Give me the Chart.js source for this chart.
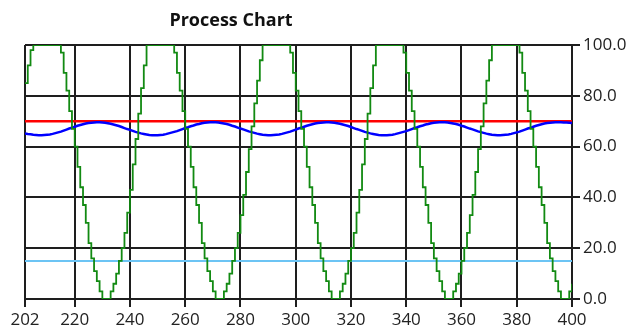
<!DOCTYPE html>
<html>
<head>
<meta charset="utf-8">
<title>Process Chart</title>
<script src="https://cdn.jsdelivr.net/npm/chart.js@4.4.1/dist/chart.umd.min.js"></script>
<style>
  html, body { margin: 0; padding: 0; background: #fff; }
  #chart { display: block; }
</style>
</head>
<body>
<canvas id="chart" width="630" height="330"></canvas>
<script>
const startTime = 202
const timeSpan = [202, 400]
const xTicks = [202, 220, 240, 260, 280, 300, 320, 340, 360, 380, 400]
const yTicks = [0, 20, 40, 60, 80, 100]

// controller output, one sample per time unit (green, stepped)
const output = [
  // 202 - 204
  85, 92, 98,
  // 205 - 245
  100, 100, 100, 100, 100, 100, 100, 100, 100, 100,
  97, 89, 82, 74, 67, 60, 52, 44, 37, 30, 22, 16, 11, 7, 3,
  0, 0, 0,
  3, 6, 10, 15, 20, 26, 34, 43, 53, 63, 73, 83, 92,
  // 246 - 287
  100, 100, 100, 100, 100, 100, 100, 100, 100, 100,
  97, 89, 82, 74, 67, 60, 52, 44, 37, 30, 22, 16, 11, 7, 3,
  0, 0, 0,
  3, 6, 10, 15, 20, 26, 33, 41, 50, 59, 68, 77, 86, 94,
  // 288 - 328
  100, 100, 100, 100, 100, 100, 100, 100, 100, 100,
  97, 89, 82, 74, 67, 60, 52, 44, 37, 30, 22, 16, 11, 7, 3,
  0, 0, 0,
  3, 6, 10, 15, 20, 26, 34, 43, 53, 63, 73, 83, 92,
  // 329 - 370
  100, 100, 100, 100, 100, 100, 100, 100, 100, 100,
  97, 89, 82, 74, 67, 60, 52, 44, 37, 30, 22, 16, 11, 7, 3,
  0, 0, 0,
  3, 6, 10, 15, 20, 26, 33, 41, 50, 59, 68, 77, 86, 94,
  // 371 - 400
  100, 100, 100, 100, 100, 100, 100, 100, 100, 100,
  97, 89, 82, 74, 67, 60, 52, 44, 37, 30, 22, 16, 11, 7, 3,
  0, 0, 0,
  3, 6
]

// process variable (blue)
const processVar = [
  // 202 - 284
  65.2, 65.0, 64.9, 64.7, 64.6, 64.5, 64.5, 64.6, 64.7, 64.8,
  65.0, 65.3, 65.6, 65.9, 66.3, 66.7, 67.1, 67.4, 67.8, 68.2,
  68.5, 68.8, 69.1, 69.3, 69.4, 69.5, 69.6, 69.6, 69.5, 69.4,
  69.2, 69.0, 68.7, 68.4, 68.1, 67.7, 67.3, 66.9, 66.6, 66.2,
  65.8, 65.5, 65.2, 65.0, 64.8, 64.6, 64.5, 64.5, 64.5, 64.6,
  64.7, 64.9, 65.2, 65.5, 65.8, 66.1, 66.5, 66.9, 67.3, 67.6,
  68.0, 68.3, 68.7, 68.9, 69.2, 69.4, 69.5, 69.6, 69.6, 69.6,
  69.5, 69.3, 69.1, 68.9, 68.6, 68.2, 67.9, 67.5, 67.1, 66.8,
  66.4, 66.0, 65.7,
  // 285 - 367
  65.4, 65.1, 64.9, 64.7, 64.6, 64.5, 64.5, 64.6, 64.7, 64.8,
  65.0, 65.3, 65.6, 65.9, 66.3, 66.7, 67.1, 67.4, 67.8, 68.2,
  68.5, 68.8, 69.1, 69.3, 69.4, 69.5, 69.6, 69.6, 69.5, 69.4,
  69.2, 69.0, 68.7, 68.4, 68.1, 67.7, 67.3, 66.9, 66.6, 66.2,
  65.8, 65.5, 65.2, 65.0, 64.8, 64.6, 64.5, 64.5, 64.5, 64.6,
  64.7, 64.9, 65.2, 65.5, 65.8, 66.1, 66.5, 66.9, 67.3, 67.6,
  68.0, 68.3, 68.7, 68.9, 69.2, 69.4, 69.5, 69.6, 69.6, 69.6,
  69.5, 69.3, 69.1, 68.9, 68.6, 68.2, 67.9, 67.5, 67.1, 66.8,
  66.4, 66.0, 65.7,
  // 368 - 400
  65.4, 65.1, 64.9, 64.7, 64.6, 64.5, 64.5, 64.6, 64.7, 64.8,
  65.0, 65.3, 65.6, 65.9, 66.3, 66.7, 67.1, 67.4, 67.8, 68.2,
  68.5, 68.8, 69.1, 69.3, 69.4, 69.5, 69.6, 69.6, 69.6, 69.5,
  69.5, 69.4, 69.3
]

const setpoint = [70, 70]
const lowLimit = [15, 15]

const toPoints = (values) => values.map((v, i) => ({ x: startTime + i, y: v }))
const toSpan = (values) => values.map((v, i) => ({ x: timeSpan[i], y: v }))

// title sits left of the plot centre in the original, so draw it by hand
const titlePlugin = {
  id: "processTitle",
  afterDraw(chart) {
    const ctx = chart.ctx
    ctx.save()
    ctx.font = 'bold 18px "Open Sans"'
    ctx.fillStyle = "#111"
    ctx.textAlign = "center"
    ctx.textBaseline = "middle"
    ctx.fillText("Process Chart", 231, 21)
    ctx.restore()
  },
}

Chart.defaults.font.family = '"Open Sans", sans-serif'
Chart.defaults.color = "#222"

const gridColor = "#1e1e1e"

new Chart(document.getElementById("chart"), {
  type: "line",
  data: {
    datasets: [
      {
        label: "Output",
        data: toPoints(output),
        borderColor: "#128a12",
        borderWidth: 1.8,
        stepped: true,
        pointRadius: 0,
      },
      {
        label: "Process",
        data: toPoints(processVar),
        borderColor: "#0000ff",
        borderWidth: 2.5,
        pointRadius: 0,
      },
      {
        label: "Setpoint",
        data: toSpan(setpoint),
        borderColor: "#ff0000",
        borderWidth: 2.5,
        pointRadius: 0,
      },
      {
        label: "Low limit",
        data: toSpan(lowLimit),
        borderColor: "#6cc4f4",
        borderWidth: 2,
        pointRadius: 0,
      },
    ],
  },
  options: {
    responsive: false,
    animation: false,
    layout: { padding: { top: 45, left: 25, right: 0, bottom: 0 } },
    plugins: {
      legend: { display: false },
      title: { display: false },
      tooltip: { enabled: false },
    },
    scales: {
      x: {
        type: "linear",
        min: timeSpan[0],
        max: timeSpan[1],
        afterBuildTicks: (scale) => {
          scale.ticks = xTicks.map((v) => ({ value: v }))
        },
        afterFit: (scale) => {
          scale.height = 31
        },
        grid: { color: gridColor, lineWidth: 2, tickLength: 8 },
        border: { color: gridColor, width: 2 },
        ticks: { font: { size: 17 }, padding: 3, maxRotation: 0, autoSkip: false },
      },
      y: {
        position: "right",
        min: 0,
        max: 100,
        afterBuildTicks: (scale) => {
          scale.ticks = yTicks.map((v) => ({ value: v }))
        },
        afterFit: (scale) => {
          scale.width = 58
        },
        grid: { color: gridColor, lineWidth: 2, tickLength: 8 },
        border: { color: gridColor, width: 2 },
        ticks: {
          font: { size: 17 },
          padding: 3,
          callback: (v) => Number(v).toFixed(1),
        },
      },
    },
  },
  plugins: [titlePlugin],
})
</script>
</body>
</html>
